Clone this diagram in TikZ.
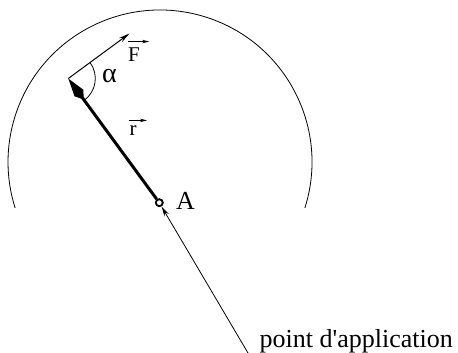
\documentclass[tikz,border=0pt]{standalone}
\usepackage{fontspec}
\setmainfont{Liberation Serif}
\usetikzlibrary{arrows.meta,calc}
\begin{document}
\begin{tikzpicture}[x=1pt,y=1pt,
  thinline/.style={line width=0.8pt},
  lbl/.style={inner sep=0pt, font=\fontsize{26}{26}\selectfont},
  vlbl/.style={inner sep=0pt, font=\fontsize{21}{21}\selectfont},
  ovarrow/.style={line width=0.8pt, -{Stealth[length=7pt,width=3.5pt]}}]
\useasboundingbox (0,0) rectangle (458,-353);
% circle arc
\coordinate (C) at (160,-162);
\draw[thinline] (C) ++(-17.6:152) arc[start angle=-17.6,end angle=197.6,radius=152];
% points
\node[circle, draw, line width=1.8pt, inner sep=0pt, minimum size=7pt] (A) at (159.3,-202.7) {};
\coordinate (T) at (68.3,-78.5);
\coordinate (Fend) at (129.5,-33.5);
\coordinate (L) at (248,-353);
% vector r
\draw[line width=3pt, -{Kite[length=26pt,width=11pt,inset=8pt]}] (A) -- (T);
% vector F
\draw[line width=1pt, -{Stealth[length=11pt,width=5pt]}] (T) -- (Fend);
% angle
\draw[thinline] (T) ++(-54:27) arc[start angle=-54,end angle=36,radius=27];
% labels
\node[vlbl, anchor=base west] (Flbl) at (128,-61.5) {F};
\draw[ovarrow] ($(Flbl.north west)+(0,6)$) -- ($(Flbl.north east)+(9,6)$);
\node[vlbl, anchor=base west] (rlbl) at (129.5,-135.5) {r};
\draw[ovarrow] ($(rlbl.north west)+(-1,5)$) -- ($(rlbl.north east)+(10,5)$);
\node[lbl, anchor=base west, font=\fontsize{28}{28}\selectfont] (alpha) at (102,-83) {α};
\node[lbl, anchor=base west] (Albl) at (176,-209.5) {A};
\node[lbl, anchor=base east] (pa) at (453,-347) {point d\textquotesingle application};
% leader
\draw[thinline, -{Stealth[length=10pt,width=5pt]}] (L) -- ($(A)!4.5pt!(L)$);
\end{tikzpicture}
\end{document}
